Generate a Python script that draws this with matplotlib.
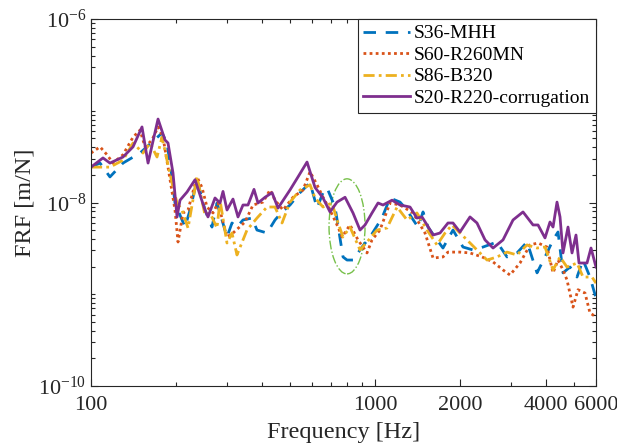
import matplotlib
matplotlib.use("Agg")
import matplotlib.pyplot as plt
from matplotlib.patches import Ellipse
from matplotlib.ticker import FixedLocator, NullFormatter

# Datos (frecuencia en Hz, FRF en unidades de 1e-8 m/N)
f_mhh = [100, 107.6, 116.6, 129.6, 148.8, 177.8, 185.2, 192.8, 197.6, 214.3, 223.2,
         236.2, 252, 266.7, 277.8, 301.2, 313.6, 326.6, 342.9, 368.9, 384.1, 416.7,
         444.6, 470.6, 502, 544.5, 590.5, 625, 656.2, 677.8, 723.2, 771.6, 797.1,
         836.7, 900.1, 960.3, 1058, 1129, 1225, 1296, 1350, 1417, 1476, 1537, 1653,
         1735, 1882, 2041, 2213, 2400, 2689, 2916, 3162, 3430, 3720, 4033, 4235,
         4410, 4592, 4860, 5144, 5400, 5715, 6000]
frf_mhh = [2.43, 2.69, 1.90, 2.69, 3.46, 5.71, 4.45, 1.90, 0.988, 0.540, 0.828,
           1.77, 0.828, 0.540, 0.988, 0.421, 0.598, 0.540, 0.645, 0.677, 0.501, 0.465,
           0.645, 0.789, 0.939, 1.28, 1.64, 0.870, 1.28, 1.44, 0.893, 0.255, 0.236,
           0.236, 0.327, 0.421, 0.677, 1.12, 1.01, 0.828, 0.677, 0.540, 0.789, 0.540, 0.391,
           0.319, 0.501, 0.327, 0.304, 0.327, 0.371, 0.255, 0.282, 0.371, 0.171, 0.282, 0.391,
           0.477, 0.171, 0.198, 0.154, 0.236, 0.154, 0.091]

f_r260 = [100, 107.6, 113.9, 119.5, 129.6, 140.6, 148.8, 155, 164, 172.2, 179.3,
          186.7, 197.6, 202.5, 210.9, 219.6, 236.2, 245.9, 256.1, 268.9, 280, 301.2,
          316.2, 348.5, 371.9, 403.3, 427, 444.6, 474.4, 514.4, 557.9, 590.5, 625,
          656.2, 694.4, 741, 765.4, 816.6, 871.3, 937.2, 975.9, 1041, 1129, 1225,
          1361, 1500, 1601, 1735, 1807, 1992, 2160, 2381, 2604, 2823, 2988, 3240,
          3515, 3750, 4033, 4235, 4410, 4592, 4743, 4980, 5186, 5489, 5715, 6000]
frf_r260 = [3.46, 4.04, 3.31, 2.69, 3.31, 5.15, 6.15, 4.04, 4.80, 6.66, 5.15,
            2.43, 0.828, 0.371, 0.769, 0.828, 1.90, 1.46, 0.893, 0.769, 0.988, 0.421,
            0.465, 0.613, 0.939, 1.01, 1.37, 1.06, 0.828, 1.14, 1.37, 2.16, 1.56,
            1.14, 0.828, 0.540, 0.421, 0.569, 0.391, 0.282, 0.391, 0.501, 0.988, 0.939,
            0.769, 0.465, 0.248, 0.255, 0.288, 0.288, 0.282, 0.255, 0.225, 0.184, 0.162, 0.219,
            0.345, 0.362, 0.327, 0.171, 0.236, 0.184, 0.143, 0.0724, 0.112, 0.103, 0.0625, 0.0566]

f_b320 = [100, 116.6, 129.6, 140.6, 152.4, 161.3, 170.8, 177.8, 185.2, 192.8, 200.9,
          209.2, 219.6, 236.2, 252, 262.4, 277.8, 284.6, 301.2, 313.6, 326.6, 354.2,
          384.1, 416.7, 444.6, 470.6, 502, 544.5, 590.5, 614.9, 656.2, 705.8, 735,
          771.6, 816.6, 885.6, 937.2, 1016, 1102, 1196, 1296, 1405, 1525, 1653, 1764,
          1867, 1992, 2108, 2286, 2480, 2689, 2916, 3162, 3430, 3720, 3968, 4235,
          4482, 4743, 5144, 5400, 5809, 6000]
frf_b320 = [2.43, 2.43, 2.89, 4.45, 3.46, 4.45, 3.13, 5.15, 2.89, 1.64, 0.988,
            0.828, 0.527, 1.90, 0.731, 0.769, 0.527, 1.06, 0.362, 0.465, 0.268, 0.501,
            0.677, 0.893, 0.893, 0.598, 1.01, 1.37, 1.56, 1.12, 0.893, 0.988, 0.645,
            0.421, 0.540, 0.304, 0.371, 0.501, 0.527, 0.893, 0.645, 0.769, 0.501, 0.345, 0.465,
            0.569, 0.465, 0.391, 0.304, 0.236, 0.255, 0.288, 0.268, 0.345, 0.319, 0.327, 0.184,
            0.255, 0.198, 0.219, 0.154, 0.154, 0.132]

f_r220 = [100, 110.2, 116.6, 129.6, 140.6, 151.2, 158.8, 172.2, 182.2, 186.7, 194.4,
          200.9, 205.8, 217.8, 232.4, 252, 258.2, 273.3, 284.6, 291.6, 301.2, 316.2,
          329.3, 342.9, 357.1, 374.9, 387.3, 410, 434, 455.6, 502, 535.7, 576.3,
          614.9, 656.2, 694.4, 735, 784.3, 836.7, 885.6, 922.2, 975.9, 1025, 1067,
          1148, 1225, 1328, 1405, 1464, 1525, 1601, 1694, 1807, 1882, 1992, 2160,
          2286, 2440, 2604, 2823, 3062, 3320, 3601, 3750, 3968, 4132, 4235, 4374,
          4482, 4592, 4782, 4940, 5102, 5228, 5400, 5579, 5762, 6000]
frf_r220 = [2.43, 3.06, 2.69, 3.13, 4.04, 6.66, 2.69, 8.12, 4.80, 4.45, 2.10,
            0.696, 1.06, 1.30, 1.77, 0.828, 0.696, 1.12, 0.988, 1.32, 0.828, 1.09,
            0.696, 0.939, 0.939, 1.39, 0.988, 1.14, 1.28, 0.870, 1.37, 1.90, 2.76,
            1.46, 1.12, 0.789, 1.01, 1.14, 0.769, 0.501, 0.569, 0.769, 0.988, 0.939,
            1.06, 0.939, 0.893, 0.677, 0.696, 0.569, 0.442, 0.465, 0.598, 0.598, 0.477, 0.696,
            0.598, 0.391, 0.319, 0.391, 0.645, 0.789, 0.569, 0.569, 0.411, 0.613, 0.540, 1.01,
            0.696, 0.282, 0.540, 0.282, 0.442, 0.219, 0.219, 0.219, 0.319, 0.198]

series = [
    ("S36-MHH", f_mhh, frf_mhh, "#0072BD", (0, (4.5, 3.5))),
    ("S60-R260MN", f_r260, frf_r260, "#D95319", (0, (1, 1.2))),
    ("S86-B320", f_b320, frf_b320, "#EDB120", (0, (4, 1.5, 1, 1.5))),
    ("S20-R220-corrugation", f_r220, frf_r220, "#7E2F8E", "-"),
]

plt.rcParams["font.family"] = ["Liberation Serif", "DejaVu Serif"]
plt.rcParams["mathtext.fontset"] = "custom"
plt.rcParams["mathtext.rm"] = "Liberation Serif"
plt.rcParams["mathtext.it"] = "Liberation Serif:italic"

fig = plt.figure(figsize=(6.17, 4.45), dpi=100)
ax = fig.add_axes([91 / 617, 1 - 386 / 445, 505 / 617, 367 / 445])

for nombre, f, frf, color, estilo in series:
    ax.plot(f, [v * 1e-8 for v in frf], color=color, linestyle=estilo,
            linewidth=2.0, label=nombre)

ax.set_xscale("log")
ax.set_yscale("log")
ax.set_xlim(100, 6000)
ax.set_ylim(1e-10, 1e-6)

ax.set_xticks([100, 1000, 2000, 4000, 6000])
ax.set_xticklabels(["100", "1000", "2000", "4000", "6000"])
ax.xaxis.set_minor_locator(FixedLocator([200, 300, 400, 500, 600, 700, 800, 900, 3000, 5000]))
ax.xaxis.set_minor_formatter(NullFormatter())

ax.set_yticks([1e-10, 1e-8, 1e-6])
ax.set_yticklabels(["10$^{-10}$", "10$^{-8}$", "10$^{-6}$"])
menores = [k * 10.0 ** e for e in range(-10, -6) for k in range(1, 10)
           if not (k == 1 and e in (-10, -8))]
ax.yaxis.set_minor_locator(FixedLocator(menores))
ax.yaxis.set_minor_formatter(NullFormatter())

ax.tick_params(which="both", direction="in", top=True, right=True, labelsize=16,
               width=0.8, colors="#262626")
ax.tick_params(axis="x", which="major", pad=7)
ax.tick_params(which="major", length=5)
ax.tick_params(which="minor", length=3)
for s in ax.spines.values():
    s.set_linewidth(0.8)
    s.set_color("#262626")

ax.set_xlabel("Frequency [Hz]", fontsize=17.5, color="#262626", labelpad=5)
ax.set_ylabel("FRF [m/N]", fontsize=17.5, color="#262626", labelpad=2)

# elipse que marca la zona alrededor de 800 Hz
elipse = Ellipse((0.507, 0.435), 0.0713, 0.259, transform=ax.transAxes, fill=False,
                 edgecolor="#77C04A", linestyle="-.", linewidth=1.0)
ax.add_patch(elipse)

leg = ax.legend(loc="upper right", fontsize=14, handlelength=2.4, handletextpad=0.2,
                labelspacing=0.2, borderpad=0.3, borderaxespad=0.0, fancybox=False,
                framealpha=1.0)
leg.get_frame().set_edgecolor("#262626")
leg.get_frame().set_linewidth(0.8)

plt.savefig("out.png", dpi=100)
print("Grafico guardado")
